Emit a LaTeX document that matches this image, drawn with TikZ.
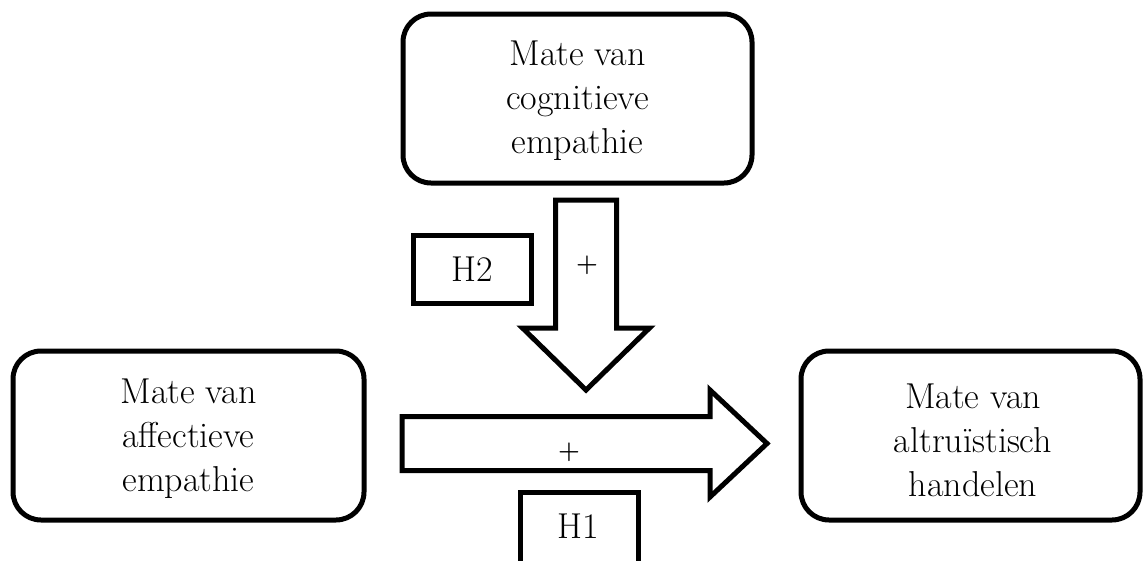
\documentclass[tikz,border=0pt]{standalone}
\begin{document}
\begin{tikzpicture}[x=1pt,y=-1pt,
  roundbox/.style={draw=black,line width=5pt,rounded corners=28pt,fill=white},
  hbox/.style={draw=black,line width=5pt,fill=white},
  bigtext/.style={font=\fontsize{36}{44}\selectfont,align=center},
  plustext/.style={font=\fontsize{25}{30}\selectfont\bfseries},
  blockarrow/.style={draw=black,line width=5pt,miter limit=10,fill=white}]
\useasboundingbox (0,0) rectangle (1143,560);
\clip (0,0) rectangle (1143,560);
% boxes
\draw[roundbox] (403,14) rectangle (752,183);
\node[bigtext] (cog) at (577.5,101) {Mate van\\cognitieve\\empathie};
\draw[roundbox] (13,351) rectangle (364,520);
\node[bigtext] (aff) at (188.5,439) {Mate van\\affectieve\\empathie};
\draw[roundbox] (801,351) rectangle (1140,520);
\node[bigtext] (alt) at (973,440) {Mate van\\altru\"istisch\\handelen};
% down arrow
\draw[blockarrow] (555.5,200) -- (616.5,200) -- (616.5,328) -- (649.5,328)
  -- (586,390) -- (522.5,328) -- (555.5,328) -- cycle;
\node[plustext] (p2) at (587,265) {+};
% right arrow
\draw[blockarrow] (402,416.5) -- (710,416.5) -- (710,390) -- (767,443.5)
  -- (710,497) -- (710,470.5) -- (402,470.5) -- cycle;
\node[plustext] (p1) at (569,452) {+};
% H boxes
\draw[hbox] (413,235.5) rectangle (531,303.5);
\node[bigtext] (h2) at (472,269.5) {H2};
\draw[hbox] (520,492) rectangle (638,580);
\node[bigtext] (h1) at (578,526) {H1};
\end{tikzpicture}
\end{document}
